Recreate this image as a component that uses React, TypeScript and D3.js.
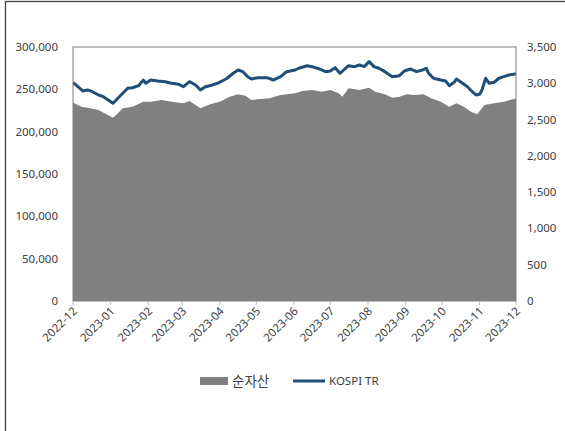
import React from "react";
import * as d3 from "d3";

const kospiDates = [
  "2022-12-01","2022-12-02","2022-12-09","2022-12-13","2022-12-17","2022-12-22","2022-12-26","2022-12-30",
  "2023-01-03","2023-01-07","2023-01-11","2023-01-15","2023-01-19","2023-01-24","2023-01-28","2023-01-30",
  "2023-02-03","2023-02-09","2023-02-15","2023-02-20","2023-02-26","2023-03-02","2023-03-07","2023-03-12",
  "2023-03-16","2023-03-20","2023-03-26","2023-03-30","2023-04-03","2023-04-07","2023-04-12","2023-04-16",
  "2023-04-20","2023-04-24","2023-04-27","2023-05-02","2023-05-10","2023-05-15","2023-05-21","2023-05-26",
  "2023-06-02","2023-06-05","2023-06-12","2023-06-16","2023-06-22","2023-06-27","2023-07-01","2023-07-05",
  "2023-07-09","2023-07-12","2023-07-16","2023-07-21","2023-07-25","2023-07-29","2023-08-02","2023-08-06",
  "2023-08-10","2023-08-15","2023-08-21","2023-08-27","2023-08-31","2023-09-05","2023-09-10","2023-09-15",
  "2023-09-18","2023-09-20","2023-09-24","2023-09-30","2023-10-04","2023-10-07","2023-10-11","2023-10-13",
  "2023-10-18","2023-10-22","2023-10-26","2023-10-29","2023-11-01","2023-11-03","2023-11-06","2023-11-09",
  "2023-11-13","2023-11-17","2023-11-21","2023-11-25","2023-11-29","2023-12-01",
];
const kospiValues = [
  3005, 3000, 2894, 2908, 2884, 2839, 2815, 2770,
  2724, 2793, 2862, 2931, 2939, 2967, 3045, 3000,
  3045, 3032, 3022, 3000, 2986, 2953, 3022, 2977,
  2908, 2953, 2977, 3000, 3032, 3069, 3138, 3183,
  3160, 3091, 3059, 3077, 3077, 3045, 3091, 3160,
  3183, 3207, 3242, 3229, 3197, 3160, 3169, 3215,
  3138, 3183, 3242, 3229, 3252, 3229, 3298, 3229,
  3207, 3160, 3091, 3105, 3169, 3197, 3160, 3183,
  3207, 3138, 3069, 3045, 3032, 2967, 3014, 3059,
  3000, 2953, 2884, 2839, 2848, 2908, 3069, 3000,
  3014, 3069, 3091, 3114, 3124, 3130,
];

const navDates = [
  "2022-12-01","2022-12-02","2022-12-08","2022-12-13","2022-12-22","2022-12-27","2023-01-03","2023-01-07",
  "2023-01-11","2023-01-19","2023-01-28","2023-02-03","2023-02-12","2023-02-20","2023-03-02","2023-03-07",
  "2023-03-16","2023-03-24","2023-04-01","2023-04-09","2023-04-16","2023-04-22","2023-04-27","2023-05-04",
  "2023-05-12","2023-05-21","2023-05-26","2023-06-02","2023-06-08","2023-06-16","2023-06-24","2023-07-01",
  "2023-07-08","2023-07-11","2023-07-16","2023-07-25","2023-08-02","2023-08-07","2023-08-15","2023-08-21",
  "2023-08-27","2023-09-02","2023-09-08","2023-09-16","2023-09-22","2023-09-30","2023-10-07","2023-10-13",
  "2023-10-19","2023-10-25","2023-10-30","2023-11-05","2023-11-13","2023-11-21","2023-11-29","2023-12-01",
];
const navValues = [
  234000, 233500, 229500, 228300, 225600, 221700, 216500, 221700,
  227600, 229500, 235400, 235400, 237400, 235400, 233500, 236200,
  227600, 232300, 235400, 241300, 244100, 242500, 237400, 238600,
  239400, 243300, 244100, 245300, 248000, 249200, 247200, 249200,
  245300, 241300, 251200, 249200, 251900, 247200, 244100, 240100,
  241300, 244100, 243300, 244100, 239400, 235400, 229500, 233500,
  229500, 223600, 220500, 231500, 233500, 235400, 238600, 239000,
];

const leftTicks = [0, 50000, 100000, 150000, 200000, 250000, 300000];
const rightTicks = [0, 500, 1000, 1500, 2000, 2500, 3000, 3500];
const monthTicks = [
  "2022-12-01","2023-01-01","2023-02-01","2023-03-01","2023-04-01","2023-05-01","2023-06-01",
  "2023-07-01","2023-08-01","2023-09-01","2023-10-01","2023-11-01","2023-12-01",
];
const seriesNames = ["순자산", "KOSPI TR"];

const W = 565;
const H = 431;
const M = { left: 73, right: 516, top: 47, bottom: 301 };
const FONT = "'Noto Sans', 'Noto Sans CJK KR', sans-serif";
const LINE_COLOR = "#1f4e79";
const AREA_COLOR = "#808080";

export default function App() {
  const parse = d3.timeParse("%Y-%m-%d");
  const fmtMonth = d3.timeFormat("%Y-%m");
  const fmtNum = d3.format(",");

  const x = d3
    .scaleTime()
    .domain([parse("2022-12-01")!, parse("2023-12-01")!])
    .range([M.left, M.right]);
  const yL = d3.scaleLinear().domain([0, 300000]).range([M.bottom, M.top]);
  const yR = d3.scaleLinear().domain([0, 3500]).range([M.bottom, M.top]);

  const nav = navDates.map((d, i) => ({ date: parse(d)!, v: navValues[i] }));
  const kospi = kospiDates.map((d, i) => ({ date: parse(d)!, v: kospiValues[i] }));

  const areaPath = d3
    .area<{ date: Date; v: number }>()
    .x((d) => x(d.date))
    .y0(yL(0))
    .y1((d) => yL(d.v))(nav)!;
  const linePath = d3
    .line<{ date: Date; v: number }>()
    .x((d) => x(d.date))
    .y((d) => yR(d.v))(kospi)!;

  const legendY = 381;

  return (
    <svg
      width={W}
      height={H}
      style={{ position: "absolute", left: 0, top: 0, background: "#fff" }}
      fontFamily={FONT}
    >
      <rect x={0} y={0} width={W} height={H} fill="#fff" />
      <rect x={5.5} y={1.5} width={620} height={500} fill="none" stroke="#404040" strokeWidth={1.3} />

      <path d={areaPath} fill={AREA_COLOR} />
      <path d={linePath} fill="none" stroke={LINE_COLOR} strokeWidth={3} strokeLinejoin="round" />

      <rect
        x={M.left}
        y={M.top}
        width={M.right - M.left}
        height={M.bottom - M.top}
        fill="none"
        stroke="#7f7f7f"
        strokeWidth={1}
      />

      {leftTicks.map((t) => (
        <text key={"l" + t} x={58} y={yL(t)} dy="0.35em" textAnchor="end" fontSize={11.5} fill="#404040">
          {fmtNum(t)}
        </text>
      ))}
      {rightTicks.map((t) => (
        <text key={"r" + t} x={527} y={yR(t)} dy="0.35em" textAnchor="start" fontSize={11.5} fill="#404040">
          {fmtNum(t)}
        </text>
      ))}

      {monthTicks.map((m) => {
        const d = parse(m)!;
        const xx = x(d);
        return (
          <g key={m}>
            <line x1={xx} x2={xx} y1={M.bottom} y2={M.bottom + 4} stroke="#bfbfbf" />
            <text
              transform={`translate(${xx + 2},${M.bottom + 8}) rotate(-45)`}
              textAnchor="end"
              dy="0.35em"
              fontSize={11.5}
              fill="#404040"
            >
              {fmtMonth(d)}
            </text>
          </g>
        );
      })}

      <rect x={200} y={legendY - 4} width={28} height={8} fill={AREA_COLOR} />
      <text x={232} y={legendY} dy="0.35em" fontSize={13.5} fill="#404040">
        {seriesNames[0]}
      </text>
      <line x1={293} x2={325} y1={legendY} y2={legendY} stroke={LINE_COLOR} strokeWidth={3} />
      <text x={329} y={legendY} dy="0.35em" fontSize={11.5} fill="#404040">
        {seriesNames[1]}
      </text>
    </svg>
  );
}
